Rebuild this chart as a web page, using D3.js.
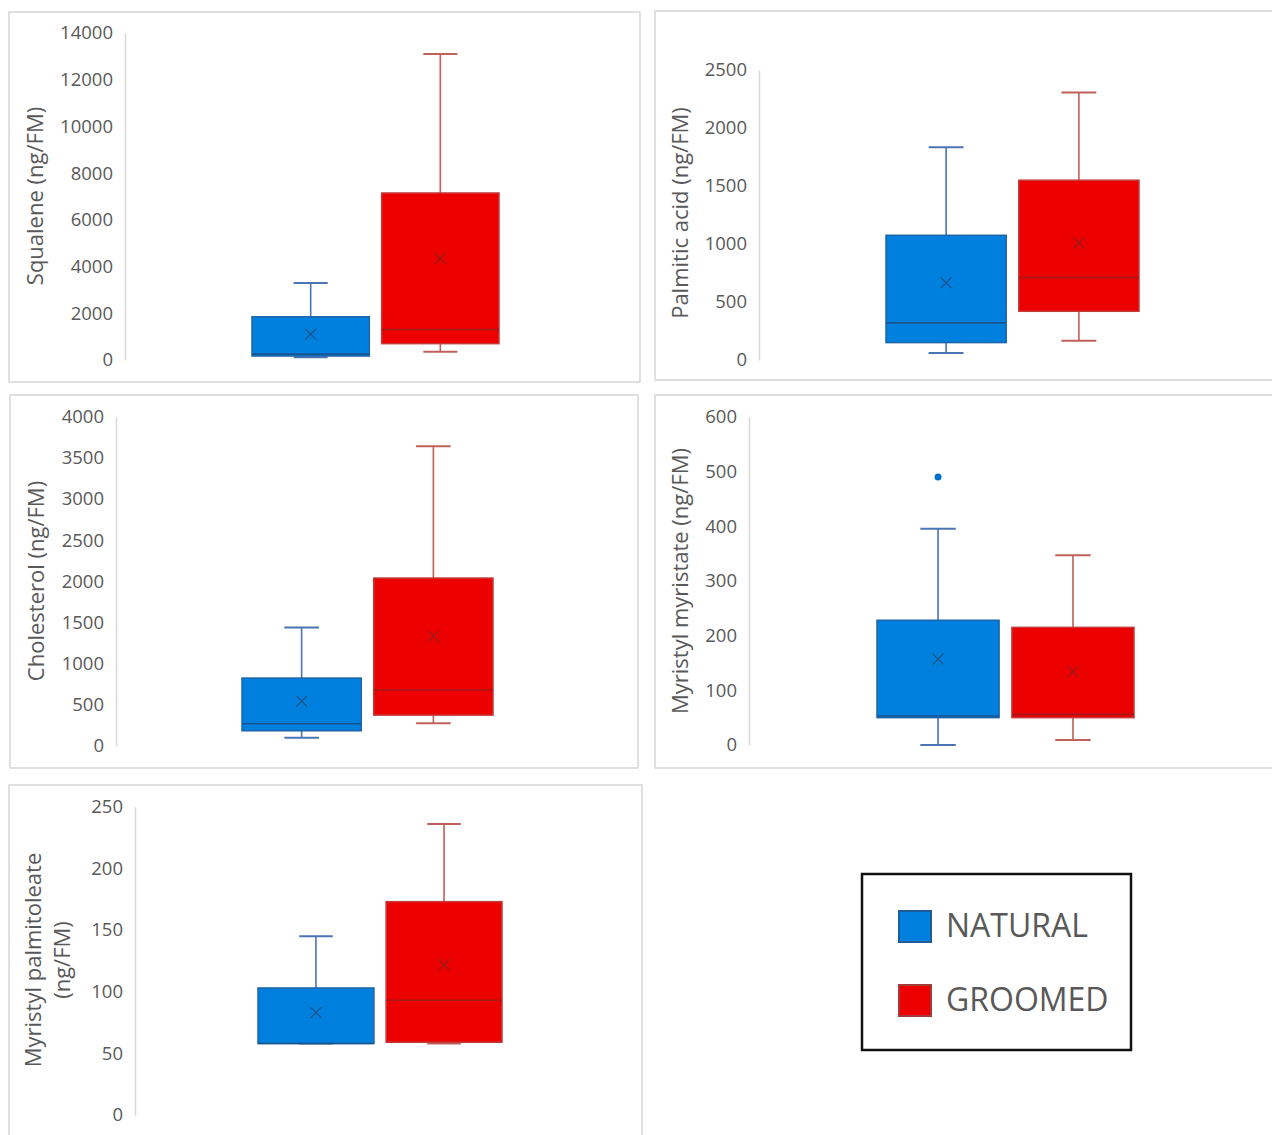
<!DOCTYPE html>
<html><head><meta charset="utf-8">
<script src="https://cdn.jsdelivr.net/npm/d3@7"></script>
<style>body{margin:0;background:#fff}svg{display:block}</style>
</head><body>
<svg id="c" width="1272" height="1135"></svg>
<script>
// categories
const categories = ["NATURAL", "GROOMED"];
// stats: [whiskerLow, q1, median, q3, whiskerHigh, mean]
const squaleneNatural = [115, 170, 250, 1850, 3300, 1110];
const squaleneGroomed = [350, 700, 1300, 7150, 13100, 4350];
const palmiticNatural = [60, 150, 320, 1075, 1835, 665];
const palmiticGroomed = [165, 420, 710, 1550, 2305, 1010];
const cholesterolNatural = [100, 185, 270, 825, 1440, 545];
const cholesterolGroomed = [275, 375, 680, 2040, 3640, 1335];
const myristateNatural = [0, 50, 53, 228, 395, 157];
const myristateGroomed = [9, 50, 56, 215, 347, 134];
const palmitoleateNatural = [58, 58, 58, 103, 145, 83];
const palmitoleateGroomed = [58, 59, 93, 173, 236, 122];
// outliers
const myristateNaturalOutliers = [490];
// tick labels
const squaleneTicks = [0, 2000, 4000, 6000, 8000, 10000, 12000, 14000];
const palmiticTicks = [0, 500, 1000, 1500, 2000, 2500];
const cholesterolTicks = [0, 500, 1000, 1500, 2000, 2500, 3000, 3500, 4000];
const myristateTicks = [0, 100, 200, 300, 400, 500, 600];
const palmitoleateTicks = [0, 50, 100, 150, 200, 250];

const panels = [
  {title:["Squalene (ng/FM)"], stats:[squaleneNatural, squaleneGroomed], outliers:[[],[]], ticks:squaleneTicks,
   frame:[9,12,631,370], axisX:125, yTop:33, yBot:360, xr:[252,499], label:[35,196]},
  {title:["Palmitic acid (ng/FM)"], stats:[palmiticNatural, palmiticGroomed], outliers:[[],[]], ticks:palmiticTicks,
   frame:[655,11,640,369], axisX:759, yTop:70, yBot:360, xr:[886,1139], label:[680,213]},
  {title:["Cholesterol (ng/FM)"], stats:[cholesterolNatural, cholesterolGroomed], outliers:[[],[]], ticks:cholesterolTicks,
   frame:[10,395,628,373], axisX:116, yTop:416.7, yBot:746, xr:[242,493], label:[36,581]},
  {title:["Myristyl myristate (ng/FM)"], stats:[myristateNatural, myristateGroomed], outliers:[myristateNaturalOutliers,[]], ticks:myristateTicks,
   frame:[655,395,640,373], axisX:749, yTop:416.7, yBot:745, xr:[877,1134], label:[680,581]},
  {title:["Myristyl palmitoleate","(ng/FM)"], stats:[palmitoleateNatural, palmitoleateGroomed], outliers:[[],[]], ticks:palmitoleateTicks,
   frame:[9,785,633,370], axisX:135, yTop:806.7, yBot:1115, xr:[258,502], label:[48,960]}
];

const styles = [
  {fill:"#0080DE", stroke:"#1E64A8", whisker:"#4A74B4", median:"#17558F", mean:"#1F4F80"},
  {fill:"#EC0000", stroke:"#C23A3A", whisker:"#C0605A", median:"#A51818", mean:"#8E1F1F"}
];
const FONT = "'Open Sans', sans-serif";
const svg = d3.select("#c");

panels.forEach(p => {
  const g = svg.append("g");
  g.append("rect").attr("x",p.frame[0]).attr("y",p.frame[1]).attr("width",p.frame[2]).attr("height",p.frame[3])
    .attr("fill","#fff").attr("stroke","#D6D6D6").attr("stroke-width",1.5);
  const y = d3.scaleLinear().domain([0, d3.max(p.ticks)]).range([p.yBot, p.yTop]);
  const x = d3.scaleBand().domain(categories).range(p.xr).paddingInner(0.095).paddingOuter(0);
  const axis = d3.axisLeft(y).tickValues(p.ticks).tickSize(0).tickPadding(12).tickFormat(d3.format("d"));
  const ag = g.append("g").attr("transform",`translate(${p.axisX},0)`).call(axis);
  ag.select(".domain").attr("stroke","#D9D9D9").attr("stroke-width",1.5);
  ag.selectAll("text").attr("font-family",FONT).attr("font-size",18.5).attr("fill","#595959");
  // label
  const lt = g.append("text").attr("transform",`translate(${p.label[0]},${p.label[1]}) rotate(-90)`)
    .attr("text-anchor","middle").attr("font-family",FONT).attr("font-size",22).attr("fill","#595959");
  p.title.forEach((t,i) => {
    lt.append("tspan").attr("x",0).attr("dy", i===0 ? (p.title.length>1 ? "-0.3em" : "0.35em") : "1.3em").text(t);
  });
  categories.forEach((c, ci) => {
    const s = p.stats[ci], st = styles[ci];
    const bx = x(c), bw = x.bandwidth(), cx = bx + bw/2, cap = bw*0.29;
    // whiskers
    g.append("line").attr("x1",cx).attr("x2",cx).attr("y1",y(s[3])).attr("y2",y(s[4])).attr("stroke",st.whisker).attr("stroke-width",1.6);
    g.append("line").attr("x1",cx).attr("x2",cx).attr("y1",y(s[1])).attr("y2",y(s[0])).attr("stroke",st.whisker).attr("stroke-width",1.6);
    g.append("line").attr("x1",cx-cap/2).attr("x2",cx+cap/2).attr("y1",y(s[4])).attr("y2",y(s[4])).attr("stroke",st.whisker).attr("stroke-width",2);
    g.append("line").attr("x1",cx-cap/2).attr("x2",cx+cap/2).attr("y1",y(s[0])).attr("y2",y(s[0])).attr("stroke",st.whisker).attr("stroke-width",2);
    // box
    g.append("rect").attr("x",bx).attr("y",y(s[3])).attr("width",bw).attr("height",Math.max(1,y(s[1])-y(s[3])))
      .attr("fill",st.fill).attr("stroke",st.stroke).attr("stroke-width",1.5);
    // median
    g.append("line").attr("x1",bx).attr("x2",bx+bw).attr("y1",y(s[2])).attr("y2",y(s[2])).attr("stroke",st.median).attr("stroke-width",1.6);
    // mean X
    const my = y(s[5]), r = 5.5;
    g.append("path").attr("d",`M${cx-r},${my-r}L${cx+r},${my+r}M${cx-r},${my+r}L${cx+r},${my-r}`)
      .attr("stroke",st.mean).attr("stroke-width",1.2).attr("fill","none");
    // outliers
    p.outliers[ci].forEach(v => {
      g.append("circle").attr("cx",cx).attr("cy",y(v)).attr("r",3.5).attr("fill","#0070C8");
    });
  });
});

// legend
const lg = svg.append("g");
lg.append("rect").attr("x",862).attr("y",874).attr("width",269).attr("height",176)
  .attr("fill","#fff").attr("stroke","#111").attr("stroke-width",2.5);
const legY = d3.scalePoint().domain(categories).range([926, 1000]);
categories.forEach((c, ci) => {
  lg.append("rect").attr("x",899).attr("y",legY(c)-15).attr("width",32).attr("height",31)
    .attr("fill",styles[ci].fill).attr("stroke",ci===0?"#1E5C9A":"#A53A3A").attr("stroke-width",2);
  lg.append("text").attr("x",946).attr("y",legY(c)+11).attr("font-family",FONT).attr("font-size",32)
    .attr("fill","#595959").text(c);
});
</script>
</body></html>
